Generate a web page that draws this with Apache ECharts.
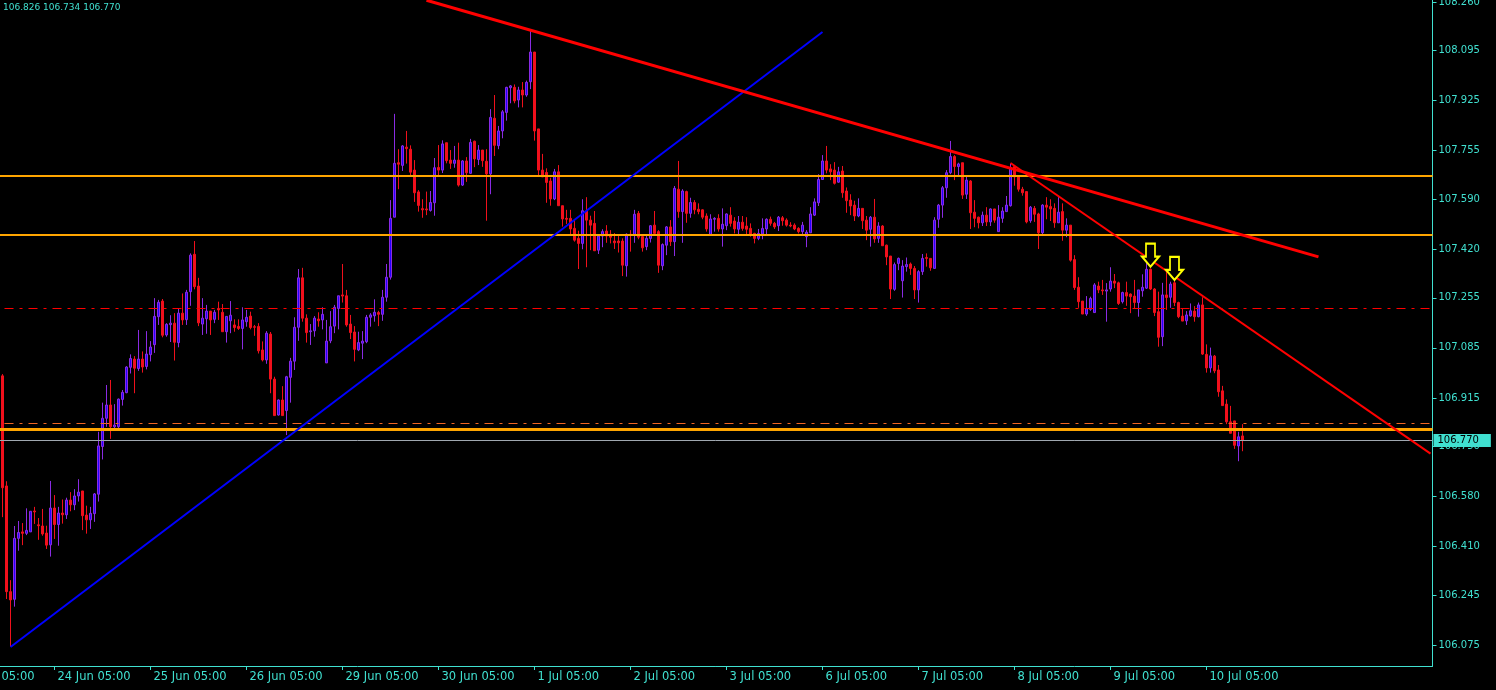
<!DOCTYPE html>
<html>
<head>
<meta charset="utf-8">
<script src="https://cdn.jsdelivr.net/npm/echarts@6/dist/echarts.min.js"></script>
<style>
html,body{margin:0;padding:0;background:#000;}
#chart{width:1496px;height:690px;}
</style>
</head>
<body>
<div id="chart"></div>
<script>
// ---------- axis text ----------
const dayLabels = ['23 Jun','24 Jun','25 Jun','26 Jun','29 Jun','30 Jun','1 Jul','2 Jul','3 Jul','6 Jul','7 Jul','8 Jul','9 Jul','10 Jul','13 Jul','14 Jul','15 Jul'];
const priceTicks = [108.260,108.095,107.925,107.755,107.590,107.420,107.255,107.085,106.915,106.750,106.580,106.410,106.245,106.075];
const lastQuote = ['106.826','106.734','106.770'];

// ---------- hourly candles (first candle is the 12th hour slot after 23 Jun 05:00) ----------
const openP = [
106.990,106.616,106.257,106.231,106.438,106.460,106.455,106.460,106.531,106.484,
106.480,106.456,106.416,106.541,106.485,106.524,106.518,106.568,106.552,106.582,
106.599,106.517,106.501,106.522,106.588,106.750,106.846,106.891,106.817,106.817,
106.910,106.933,107.019,107.047,107.015,107.047,107.022,107.062,107.096,107.191,
107.244,107.129,107.164,107.169,107.103,107.203,107.181,107.276,107.403,107.295,
107.166,107.184,107.210,107.182,107.219,107.206,107.140,107.177,107.163,107.158,
107.151,107.174,107.193,107.157,107.158,107.078,107.044,107.132,106.979,106.857,
106.908,106.872,106.985,107.040,107.155,107.323,107.186,107.140,107.143,107.183,
107.180,107.034,107.109,107.159,107.219,107.265,107.262,107.166,107.139,107.078,
107.101,107.106,107.189,107.194,107.205,107.199,107.257,107.325,107.529,107.714,
107.705,107.767,107.760,107.689,107.615,107.558,107.557,107.552,107.578,107.698,
107.689,107.782,107.723,107.712,107.723,107.638,107.720,107.678,107.787,107.725,
107.757,107.719,107.676,107.865,107.772,107.822,107.885,107.969,107.970,107.927,
107.961,107.944,107.989,108.090,107.829,107.689,107.681,107.652,107.591,107.683,
107.568,107.525,107.525,107.491,107.457,107.440,107.550,107.519,107.508,107.417,
107.465,107.482,107.471,107.448,107.448,107.448,107.364,107.471,107.468,107.542,
107.463,107.429,107.457,107.502,107.480,107.364,107.434,107.496,107.446,107.624,
107.548,107.616,107.542,107.579,107.556,107.554,107.533,107.468,107.522,107.525,
107.489,107.500,107.536,107.516,107.488,107.512,107.499,107.491,107.474,107.457,
107.472,107.489,107.522,107.508,107.500,107.527,107.519,107.502,107.502,107.491,
107.480,107.463,107.476,107.536,107.578,107.657,107.720,107.693,107.689,107.648,
107.686,107.618,107.587,107.570,107.533,107.559,107.519,107.488,107.529,107.457,
107.499,107.434,107.397,107.284,107.372,107.313,107.361,107.370,107.355,107.282,
107.344,107.392,107.389,107.355,107.522,107.570,107.629,107.680,107.735,107.701,
107.714,107.607,107.652,107.546,107.529,107.510,107.536,107.513,107.557,107.480,
107.525,107.548,107.568,107.701,107.666,107.624,107.616,107.517,107.559,107.540,
107.476,107.570,107.565,107.559,107.510,107.548,107.485,107.502,107.385,107.291,
107.244,107.200,107.216,107.205,107.295,107.282,107.278,107.285,107.312,107.306,
107.242,107.273,107.268,107.261,107.239,107.279,107.288,107.352,107.285,107.208,
107.123,107.265,107.257,107.306,107.239,107.193,107.177,107.194,107.210,107.191,
107.231,107.063,107.017,107.057,107.010,106.939,106.894,106.834,106.837,106.752,
106.786];

const closeP = [
106.610,106.257,106.229,106.438,106.458,106.455,106.465,106.530,106.528,106.481,
106.453,106.415,106.541,106.485,106.524,106.518,106.568,106.552,106.582,106.595,
106.515,106.501,106.523,106.589,106.752,106.846,106.891,106.817,106.823,106.911,
106.934,107.020,107.049,107.016,107.047,107.020,107.064,107.088,107.192,107.240,
107.128,107.165,107.169,107.104,107.203,107.180,107.274,107.400,107.293,107.170,
107.186,107.210,107.180,107.206,107.214,107.140,107.192,107.196,107.154,107.151,
107.180,107.189,107.154,107.155,107.075,107.044,107.135,106.979,106.855,106.908,
106.855,106.987,107.040,107.155,107.323,107.186,107.137,107.143,107.186,107.177,
107.199,107.108,107.157,107.223,107.262,107.261,107.163,107.137,107.080,107.103,
107.108,107.189,107.197,107.206,107.199,107.257,107.325,107.525,107.712,107.709,
107.771,107.762,107.682,107.612,107.569,107.554,107.554,107.579,107.697,107.689,
107.778,107.721,107.712,107.723,107.638,107.720,107.680,107.783,107.727,107.757,
107.721,107.676,107.868,107.773,107.822,107.887,107.970,107.975,107.924,107.961,
107.944,107.987,108.090,107.822,107.689,107.666,107.647,107.591,107.683,107.568,
107.523,107.522,107.489,107.451,107.440,107.551,107.519,107.502,107.415,107.465,
107.480,107.465,107.461,107.442,107.442,107.366,107.471,107.467,107.539,107.461,
107.425,107.457,107.500,107.474,107.366,107.436,107.496,107.446,107.627,107.548,
107.618,107.542,107.579,107.554,107.548,107.529,107.489,107.523,107.525,107.489,
107.505,107.540,107.508,107.489,107.512,107.491,107.488,107.472,107.457,107.474,
107.491,107.522,107.508,107.496,107.529,107.517,107.502,107.499,107.489,107.480,
107.502,107.478,107.540,107.581,107.657,107.720,107.689,107.683,107.644,107.683,
107.612,107.585,107.567,107.533,107.559,107.517,107.485,107.529,107.455,107.499,
107.432,107.394,107.285,107.368,107.389,107.363,107.368,107.355,107.282,107.344,
107.389,107.389,107.357,107.519,107.570,107.629,107.680,107.735,107.701,107.710,
107.604,107.655,107.544,107.525,107.510,107.536,107.513,107.557,107.519,107.529,
107.550,107.570,107.697,107.666,107.624,107.612,107.513,107.563,107.539,107.476,
107.570,107.563,107.557,107.510,107.546,107.485,107.502,107.383,107.290,107.242,
107.200,107.219,107.253,107.299,107.282,107.279,107.282,107.312,107.305,107.236,
107.273,107.261,107.259,107.239,107.282,107.291,107.352,107.285,107.205,107.121,
107.265,107.256,107.302,107.239,107.191,107.176,107.197,107.211,107.191,107.231,
107.064,107.017,107.058,107.007,106.936,106.889,106.834,106.795,106.754,106.783,
106.770];

const highP = [
106.996,106.632,106.296,106.480,106.497,106.490,106.540,106.530,106.545,106.507,
106.538,106.481,106.633,106.585,106.545,106.570,106.576,106.595,106.605,106.639,
106.599,106.549,106.545,106.592,106.800,106.899,106.959,106.976,106.894,106.913,
106.942,107.023,107.063,107.057,107.146,107.073,107.142,107.108,107.254,107.248,
107.251,107.169,107.196,107.203,107.218,107.270,107.282,107.406,107.448,107.323,
107.254,107.231,107.210,107.214,107.242,107.234,107.192,107.244,107.182,107.182,
107.223,107.214,107.208,107.163,107.169,107.107,107.142,107.139,106.987,106.910,
106.955,106.990,107.051,107.189,107.353,107.357,107.199,107.166,107.193,107.206,
107.223,107.180,107.210,107.231,107.262,107.370,107.282,107.197,107.159,107.140,
107.142,107.197,107.203,107.250,107.211,107.282,107.370,107.587,107.880,107.760,
107.774,107.822,107.773,107.723,107.621,107.590,107.616,107.618,107.730,107.774,
107.790,107.782,107.757,107.771,107.782,107.723,107.733,107.795,107.789,107.774,
107.757,107.760,107.896,107.944,107.839,107.893,107.972,107.978,107.980,107.972,
107.988,107.993,108.165,108.090,107.829,107.744,107.695,107.663,107.693,107.706,
107.568,107.554,107.554,107.519,107.483,107.590,107.597,107.534,107.550,107.471,
107.488,107.502,107.485,107.475,107.465,107.457,107.474,107.485,107.554,107.550,
107.465,107.468,107.502,107.550,107.485,107.440,107.499,107.519,107.635,107.720,
107.624,107.619,107.595,107.587,107.576,107.556,107.542,107.539,107.529,107.539,
107.559,107.542,107.563,107.529,107.533,107.533,107.529,107.508,107.476,107.489,
107.525,107.525,107.531,107.513,107.533,107.533,107.525,107.512,107.508,107.495,
107.513,107.485,107.563,107.593,107.675,107.740,107.771,107.709,107.716,107.700,
107.703,107.630,107.607,107.585,107.593,107.559,107.533,107.533,107.591,107.512,
107.502,107.436,107.397,107.375,107.392,107.383,107.392,107.375,107.363,107.349,
107.404,107.406,107.389,107.529,107.574,107.635,107.689,107.788,107.740,107.714,
107.714,107.672,107.655,107.587,107.531,107.548,107.563,107.559,107.557,107.570,
107.563,107.601,107.710,107.706,107.672,107.632,107.616,107.567,107.567,107.544,
107.573,107.597,107.590,107.576,107.597,107.576,107.525,107.502,107.400,107.325,
107.244,107.261,107.259,107.305,107.310,107.316,107.305,107.359,107.336,107.310,
107.276,107.310,107.270,107.316,107.282,107.335,107.383,107.355,107.288,107.276,
107.306,107.344,107.310,107.318,107.242,107.220,107.210,107.236,107.227,107.239,
107.257,107.097,107.086,107.061,107.027,106.956,106.910,106.888,106.837,106.800,
106.826];

const lowP = [
106.510,106.232,106.070,106.206,106.396,106.415,106.449,106.460,106.487,106.433,
106.447,106.402,106.376,106.436,106.413,106.488,106.504,106.530,106.534,106.563,
106.466,106.454,106.470,106.494,106.563,106.706,106.817,106.776,106.812,106.809,
106.889,106.931,106.998,106.931,107.007,107.001,107.012,107.039,107.068,107.163,
107.121,107.123,107.105,107.042,107.087,107.163,107.163,107.228,107.284,107.159,
107.129,107.133,107.129,107.169,107.180,107.140,107.103,107.135,107.140,107.146,
107.080,107.157,107.148,107.126,107.066,107.039,107.031,106.931,106.855,106.855,
106.855,106.789,106.899,107.010,107.109,107.174,107.103,107.095,107.123,107.157,
107.148,107.034,107.101,107.135,107.148,107.239,107.157,107.115,107.039,107.074,
107.047,107.101,107.157,107.174,107.159,107.177,107.242,107.317,107.529,107.624,
107.686,107.711,107.666,107.581,107.548,107.527,107.536,107.548,107.534,107.666,
107.679,107.712,107.693,107.697,107.633,107.635,107.649,107.676,107.699,107.706,
107.700,107.517,107.607,107.737,107.760,107.797,107.857,107.916,107.916,107.902,
107.902,107.938,107.964,107.789,107.666,107.666,107.578,107.568,107.587,107.568,
107.497,107.506,107.465,107.446,107.353,107.420,107.359,107.417,107.415,107.404,
107.427,107.442,107.440,107.421,107.409,107.329,107.327,107.412,107.442,107.454,
107.412,107.417,107.443,107.468,107.340,107.349,107.400,107.431,107.397,107.527,
107.442,107.510,107.527,107.539,107.539,107.522,107.480,107.468,107.480,107.480,
107.429,107.485,107.497,107.474,107.466,107.483,107.472,107.463,107.440,107.451,
107.454,107.468,107.500,107.489,107.482,107.500,107.497,107.495,107.485,107.474,
107.472,107.427,107.476,107.533,107.567,107.657,107.678,107.655,107.640,107.646,
107.595,107.544,107.536,107.516,107.529,107.489,107.451,107.429,107.442,107.442,
107.432,107.366,107.251,107.279,107.349,107.256,107.344,107.333,107.251,107.239,
107.333,107.361,107.347,107.355,107.493,107.527,107.595,107.675,107.655,107.666,
107.591,107.591,107.489,107.495,107.491,107.499,107.499,107.499,107.510,107.480,
107.510,107.548,107.565,107.636,107.616,107.602,107.508,107.510,107.513,107.421,
107.465,107.522,107.516,107.493,107.510,107.449,107.461,107.378,107.282,107.221,
107.200,107.194,107.211,107.205,107.271,107.265,107.174,107.276,107.288,107.231,
107.236,107.228,107.203,107.219,107.191,107.259,107.285,107.282,107.193,107.089,
107.091,107.214,107.221,107.227,107.186,107.176,107.163,107.191,107.174,107.189,
107.061,107.001,107.001,106.999,106.919,106.888,106.826,106.795,106.742,106.700,
106.734];

// ---------- drawn objects (price levels and trend lines, in slot index / price) ----------
const orangeLevels = [107.672, 107.469];
const orangeLowLevel = 106.815;
const orangeDashLevel = 106.828;
const redDashLevel = 107.219;
const bidLevel = 106.770;
const blueTrend = [[13, 106.069], [216, 108.158]];
const redTrendTop = [[117, 108.266], [340, 107.394]];
const redTrendLow = [[263, 107.713], [368, 106.726]];
const arrowMarks = [[298, 107.400], [304, 107.355]];

// ---------- build ----------
const leadSlots = 11;
const slotCount = 369;
const lastLabelSlot = 312;
const categories = [];
for (let i = 0; i < slotCount; i++) {
  const d = Math.floor(i / 24);
  const h = (5 + i % 24) % 24;
  const di = h < 5 ? d + 1 : d;
  categories.push(dayLabels[di] + ' ' + (h < 10 ? '0' : '') + h + ':00');
}
const candles = [];
for (let i = 0; i < leadSlots; i++) candles.push(['-', '-', '-', '-']);
for (let k = 0; k < openP.length; k++) candles.push([openP[k], closeP[k], lowP[k], highP[k]]);

const AX = '#40e0d0';
const FONT = 'DejaVu Sans';
const showSlot = (i) => i % 24 === 0 && i <= lastLabelSlot;

const line = (pts, color, width) => [
  { coord: pts[0], lineStyle: { color: color, width: width, type: 'solid' } },
  { coord: pts[1] }
];

const chart = echarts.init(document.getElementById('chart'), null, { renderer: 'canvas' });
chart.setOption({
  backgroundColor: '#000000',
  animation: false,
  title: {
    text: lastQuote.join(' '),
    left: 3, top: 3, padding: 0,
    textStyle: { color: AX, fontSize: 9, fontWeight: 'normal', fontFamily: FONT }
  },
  grid: { left: -43.5, right: 63.5, top: 0, bottom: 24, containLabel: false, outerBoundsMode: 'none' },
  xAxis: {
    type: 'category',
    data: categories,
    boundaryGap: true,
    axisLine: { show: true, lineStyle: { color: AX, width: 1 } },
    axisTick: { show: true, alignWithLabel: true, interval: showSlot, length: 4, lineStyle: { color: AX } },
    axisLabel: {
      interval: showSlot, align: 'left', color: AX, fontSize: 11.5, fontFamily: FONT,
      margin: 5, padding: [0, 0, 0, 3]
    },
    splitLine: { show: false }
  },
  yAxis: {
    type: 'value',
    position: 'right',
    min: 106.0044,
    max: 108.2668,
    scale: true,
    axisLine: { show: true, lineStyle: { color: AX, width: 1 } },
    axisTick: { show: true, customValues: priceTicks, length: 4, lineStyle: { color: AX } },
    axisLabel: {
      customValues: priceTicks, color: AX, fontSize: 10, fontFamily: FONT, margin: 6,
      formatter: (v) => v.toFixed(3)
    },
    splitLine: { show: false }
  },
  series: [{
    type: 'candlestick',
    data: candles,
    barWidth: 2,
    itemStyle: {
      color: '#2200ff', color0: '#f0101c',
      borderColor: '#8a2be2', borderColor0: '#f0101c', borderWidth: 1
    },
    markLine: {
      silent: true, symbol: 'none', animation: false,
      label: { show: false },
      data: [
        { yAxis: orangeLevels[0], lineStyle: { color: '#ffa500', width: 2, type: 'solid' } },
        { yAxis: orangeLevels[1], lineStyle: { color: '#ffa500', width: 2, type: 'solid' } },
        { yAxis: redDashLevel, lineStyle: { color: '#ff0000', width: 1, type: [9, 6, 3, 6] } },
        { yAxis: orangeDashLevel, lineStyle: { color: '#f26522', width: 1, type: [9, 6, 3, 6] } },
        { yAxis: orangeLowLevel, lineStyle: { color: '#ffa500', width: 3, type: 'solid' } },
        {
          yAxis: bidLevel, lineStyle: { color: '#a0a8b0', width: 1, type: 'solid' },
          label: {
            show: true, position: 'end', formatter: lastQuote[2], distance: 1,
            backgroundColor: AX, color: '#000', fontSize: 10, fontFamily: FONT,
            padding: [2, 12, 1, 4]
          }
        },
        line(blueTrend, '#0000ff', 2),
        line(redTrendTop, '#ff0000', 3),
        line(redTrendLow, '#ff0000', 2)
      ]
    },
    markPoint: {
      silent: true, animation: false,
      symbol: 'path://M4,0L13,0L13,13L17,13L8.5,23L0,13L4,13Z',
      symbolSize: [17, 23],
      symbolKeepAspect: false,
      itemStyle: { color: '#000000', borderColor: '#ffff00', borderWidth: 2 },
      label: { show: false },
      data: arrowMarks.map(p => ({ coord: p }))
    }
  }]
});
</script>
</body>
</html>
